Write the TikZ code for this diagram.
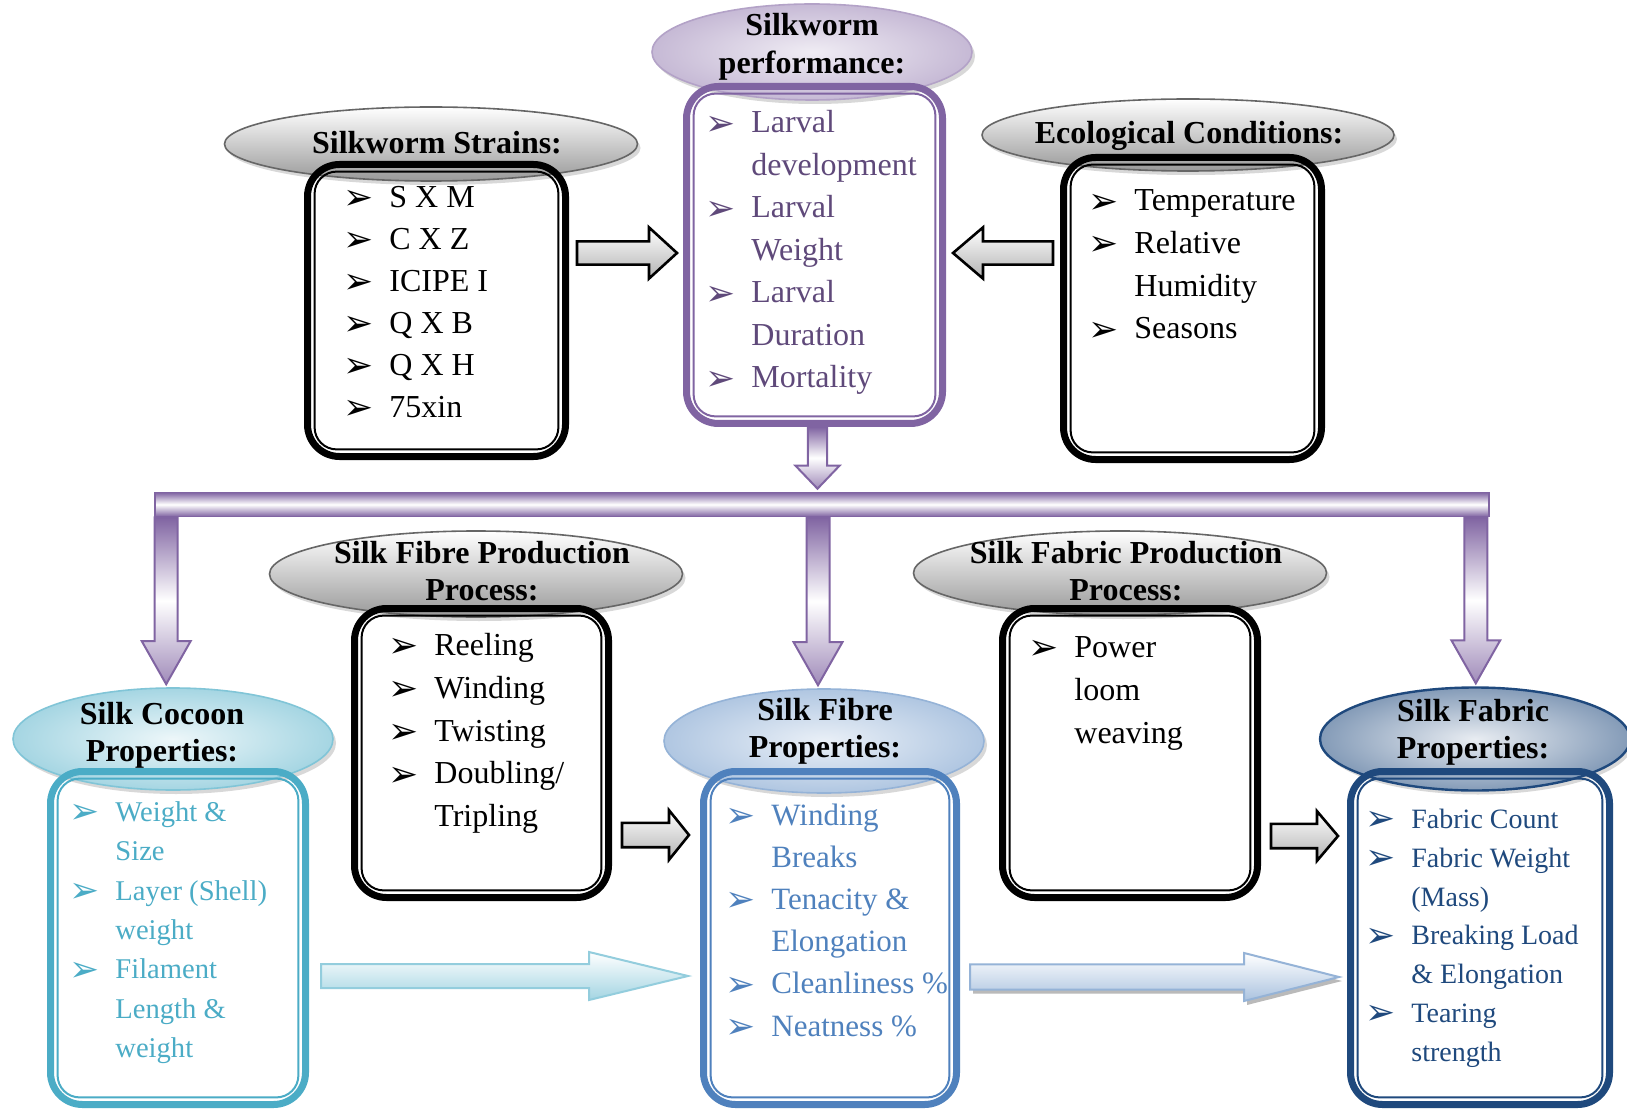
\documentclass[tikz,border=0pt]{standalone}
\usepackage{fontspec}
\setmainfont{Liberation Serif}
\newfontfamily\dejavu{DejaVu Sans}
\usetikzlibrary{shapes.geometric,shadows,calc}

\definecolor{purp}{HTML}{8064A2}
\definecolor{purptext}{HTML}{5F497A}
\definecolor{cyanb}{HTML}{4BACC6}
\definecolor{blueb}{HTML}{4F81BD}
\definecolor{navy}{HTML}{1F497D}
\definecolor{cyanarr}{HTML}{93CDDD}
\definecolor{bluearr}{HTML}{95B3D7}

\newcommand\bul{\makebox[23pt][l]{\raisebox{-1.2pt}{\dejavu\fontsize{18}{18}\selectfont ➢}}}
\newcommand\lst[1]{\begin{tabular}[t]{@{}l@{}l@{}}#1\end{tabular}}
\newcommand\boxinner[2]{\draw[#2, line width=1pt, rounded corners=11pt] ([shift={(5.3pt,-5.3pt)}]#1.north west) rectangle ([shift={(-5.3pt,5.3pt)}]#1.south east);}
% right-pointing block arrow: style, tail, tip, shaft half, head half, head length
\newcommand\rarr[6]{\path[#1] let \p1=(#2), \p2=(#3) in (\x1,\y2+#4) -- (\x2-#6,\y2+#4) -- (\x2-#6,\y2+#5) -- (\x2,\y2) -- (\x2-#6,\y2-#5) -- (\x2-#6,\y2-#4) -- (\x1,\y2-#4) -- cycle;}
\newcommand\larr[6]{\path[#1] let \p1=(#2), \p2=(#3) in (\x1,\y2+#4) -- (\x2+#6,\y2+#4) -- (\x2+#6,\y2+#5) -- (\x2,\y2) -- (\x2+#6,\y2-#5) -- (\x2+#6,\y2-#4) -- (\x1,\y2-#4) -- cycle;}
\newcommand\darr[6]{\path[#1] let \p1=(#2), \p2=(#3) in (\x1-#4,\y1) -- (\x1-#4,\y2+#6) -- (\x1-#5,\y2+#6) -- (\x1,\y2) -- (\x1+#5,\y2+#6) -- (\x1+#4,\y2+#6) -- (\x1+#4,\y1) -- cycle;}

\begin{document}
\begin{tikzpicture}[x=0.5pt,y=-0.5pt,
  shadowed/.style={drop shadow={shadow xshift=1.5pt, shadow yshift=-2pt, opacity=0.3}},
  grayell/.style={ellipse, draw=black!60, line width=0.8pt, top color=white, bottom color=black!40, shadowed},
  purpell/.style={ellipse, draw=purp!60, line width=0.8pt, inner color=purp!12, outer color=purp!45, shadowed},
  cyanell/.style={ellipse, draw=cyanb!70, line width=0.8pt, inner color=cyanb!10, outer color=cyanb!50, shadowed},
  blueell/.style={ellipse, draw=blueb!60, line width=0.8pt, inner color=blueb!12, outer color=blueb!45, shadowed},
  navyell/.style={ellipse, draw=navy, line width=1.2pt, inner color=navy!10, outer color=navy!55, shadowed},
  title/.style={font=\bfseries\fontsize{16}{18.5}\selectfont, align=center, inner sep=0pt},
  boxbase/.style={rectangle, rounded corners=16pt, line width=3.5pt, inner sep=0pt},
  listnode/.style={anchor=base west, inner sep=0pt},
  blkarr/.style={draw=black, line width=1.3pt, line join=miter, top color=white, bottom color=black!30},
  purarr/.style={draw=purp, line width=1pt, line join=miter, top color=purp, bottom color=purp!75, middle color=white},
  barst/.style={rectangle, draw=purp, line width=0.8pt, inner sep=0pt, top color=purp, bottom color=purp, middle color=white},
  cyanarrs/.style={draw=cyanarr, line width=1pt, line join=miter, top color=white, bottom color=cyanarr!85},
  bluearrs/.style={draw=bluearr, line width=1pt, line join=miter, top color=white, bottom color=bluearr!80,
     drop shadow={shadow xshift=1.5pt, shadow yshift=-2pt, fill=black!45, opacity=0.6}}
]
\useasboundingbox (0,0) rectangle (1627,1112);
\fill[white] (0,0) rectangle (1627,1112);

% ---------- ellipses ----------
\node[purpell, minimum width=160pt, minimum height=48pt] (perfE) at (812,52) {};
\node[grayell, minimum width=206.5pt, minimum height=37pt] (strainsE) at (431,144) {};
\node[grayell, minimum width=206pt, minimum height=36pt] (ecoE) at (1188,135) {};
\node[grayell, minimum width=206.5pt, minimum height=43pt] (fpE) at (476,574) {};
\node[grayell, minimum width=206.5pt, minimum height=42pt] (fabpE) at (1120,573) {};
\node[cyanell, minimum width=160pt, minimum height=51pt] (cocoonE) at (173,739) {};
\node[blueell, minimum width=160pt, minimum height=52pt] (fibreE) at (824,741) {};
\node[navyell, minimum width=155pt, minimum height=51.5pt] (fabE) at (1475,739) {};

% ---------- titles ----------
\node[title, font=\bfseries\fontsize{16}{19}\selectfont] (perfT) at (812,47) {Silkworm\\performance:};
\node[title] (strainsT) at (437,143) {Silkworm Strains:};
\node[title] (ecoT) at (1189,136) {Ecological Conditions:};
\node[title] (fpT) at (482,571.5) {Silk Fibre Production\\Process:};
\node[title] (fabpT) at (1126,571) {Silk Fabric Production\\Process:};
\node[title] (cocoonT) at (162,735) {Silk Cocoon\\Properties:};
\node[title] (fibreT) at (825,731.5) {Silk Fibre\\Properties:};
\node[title] (fabT) at (1473,732.5) {Silk Fabric\\Properties:};

% ---------- boxes ----------
\node[boxbase, draw=black, minimum width=129pt, minimum height=146pt] (strainsbox) at (436.5,310.5) {};
\node[boxbase, draw=purp, minimum width=128pt, minimum height=168.5pt] (perfbox) at (814.5,255) {};
\node[boxbase, draw=black, minimum width=129pt, minimum height=151pt] (ecobox) at (1192.5,308.5) {};
\node[boxbase, draw=black, minimum width=127pt, minimum height=144.5pt] (fpbox) at (481.5,753) {};
\node[boxbase, draw=black, minimum width=127.5pt, minimum height=144.5pt] (fabpbox) at (1130,753) {};
\node[boxbase, draw=cyanb, minimum width=127.5pt, minimum height=166.5pt] (cocoonbox) at (178,938) {};
\node[boxbase, draw=blueb, minimum width=126.5pt, minimum height=166.5pt] (fibrebox) at (830,938) {};
\node[boxbase, draw=navy, minimum width=129.5pt, minimum height=166.5pt] (fabbox) at (1480,938) {};
\boxinner{strainsbox}{black}
\boxinner{perfbox}{purp}
\boxinner{ecobox}{black}
\boxinner{fpbox}{black}
\boxinner{fabpbox}{black}
\boxinner{cocoonbox}{cyanb}
\boxinner{fibrebox}{blueb}
\boxinner{fabbox}{navy}

% ---------- lists ----------
\node[listnode, font=\fontsize{16}{21}\selectfont] (strainsL) at (343,207.5)
  {\lst{\bul & S X M\\ \bul & C X Z\\ \bul & ICIPE I\\ \bul & Q X B\\ \bul & Q X H\\ \bul & 75xin}};
\node[listnode, text=purptext, font=\fontsize{16}{21.25}\selectfont] (perfL) at (705,133)
  {\lst{\bul & Larval\\ & development\\ \bul & Larval\\ & Weight\\ \bul & Larval\\ & Duration\\ \bul & Mortality}};
\node[listnode, font=\fontsize{16}{21.3}\selectfont] (ecoL) at (1088,211)
  {\lst{\bul & Temperature\\ \bul & Relative\\ & Humidity\\ \bul & Seasons}};
\node[listnode, font=\fontsize{16}{21.4}\selectfont] (fpL) at (388,655.5)
  {\lst{\bul & Reeling\\ \bul & Winding\\ \bul & Twisting\\ \bul & Doubling/\\ & Tripling}};
\node[listnode, font=\fontsize{16}{21.5}\selectfont] (fabpL) at (1028,657.5)
  {\lst{\bul & Power\\ & loom\\ & weaving}};
\node[listnode, text=cyanb, font=\fontsize{14.3}{19.65}\selectfont] (cocoonL) at (69,821.5)
  {\lst{\bul & Weight \&\\ & Size\\ \bul & Layer (Shell)\\ & weight\\ \bul & Filament\\ & Length \&\\ & weight}};
\node[listnode, text=blueb, font=\fontsize{15.5}{21.1}\selectfont] (fibreL) at (725,825)
  {\lst{\bul & Winding\\ & Breaks\\ \bul & Tenacity \&\\ & Elongation\\ \bul & Cleanliness \%\\ \bul & Neatness \%}};
\node[listnode, text=navy, font=\fontsize{14}{19.4}\selectfont] (fabL) at (1365,828.5)
  {\lst{\bul & Fabric Count\\ \bul & Fabric Weight\\ & (Mass)\\ \bul & Breaking Load\\ & \& Elongation\\ \bul & Tearing\\ & strength}};

% ---------- bar and purple arrows ----------
\node[barst, minimum width=667pt, minimum height=12pt] (bar) at (822,504.5) {};
\darr{purarr}{$(perfbox.south)+(3,0)$}{$(perfbox.south |- bar.north)+(3,-3)$}{4.8pt}{11pt}{11.5pt}
\coordinate (dL) at ($(bar.south west)+(12,0)$);
\coordinate (dM) at ($(bar.south)+(-4,0)$);
\coordinate (dR) at ($(bar.south east)+(-14,0)$);
\darr{purarr}{dL}{$(dL |- cocoonE.north)+(0,-3)$}{5.75pt}{12.2pt}{21.5pt}
\darr{purarr}{dM}{$(dM |- fibreE.north)+(0,-3)$}{5.75pt}{12.2pt}{21.5pt}
\darr{purarr}{dR}{$(dR |- fabE.north)+(0,-3)$}{5.75pt}{12.2pt}{21.5pt}

% ---------- black block arrows ----------
\rarr{blkarr}{$(strainsbox.east |- perfbox.west)+(8,-2)$}{$(perfbox.west)+(-6,-2)$}{5.8pt}{12.8pt}{14pt}
\larr{blkarr}{$(ecobox.west |- perfbox.east)+(-7,-2)$}{$(perfbox.east)+(7,-2)$}{5.8pt}{12.8pt}{15pt}
\coordinate (fpA) at ($(fpbox.east)+(10,82)$);
\rarr{blkarr}{fpA}{$(fibrebox.west |- fpA)+(-11,0)$}{6.1pt}{12.4pt}{10pt}
\coordinate (fabpA) at ($(fabpbox.east)+(10,83)$);
\rarr{blkarr}{fabpA}{$(fabbox.west |- fabpA)+(-9,0)$}{6.1pt}{12.4pt}{10.5pt}

% ---------- light block arrows ----------
\coordinate (cocA) at ($(cocoonbox.east)+(12,38)$);
\rarr{cyanarrs}{cocA}{$(fibrebox.west |- cocA)+(-12,0)$}{6pt}{12pt}{49.5pt}
\coordinate (fibA) at ($(fibrebox.east)+(10,39)$);
\rarr{bluearrs}{fibA}{$(fabbox.west |- fibA)+(-8,0)$}{6.3pt}{12pt}{47.5pt}
\end{tikzpicture}
\end{document}
